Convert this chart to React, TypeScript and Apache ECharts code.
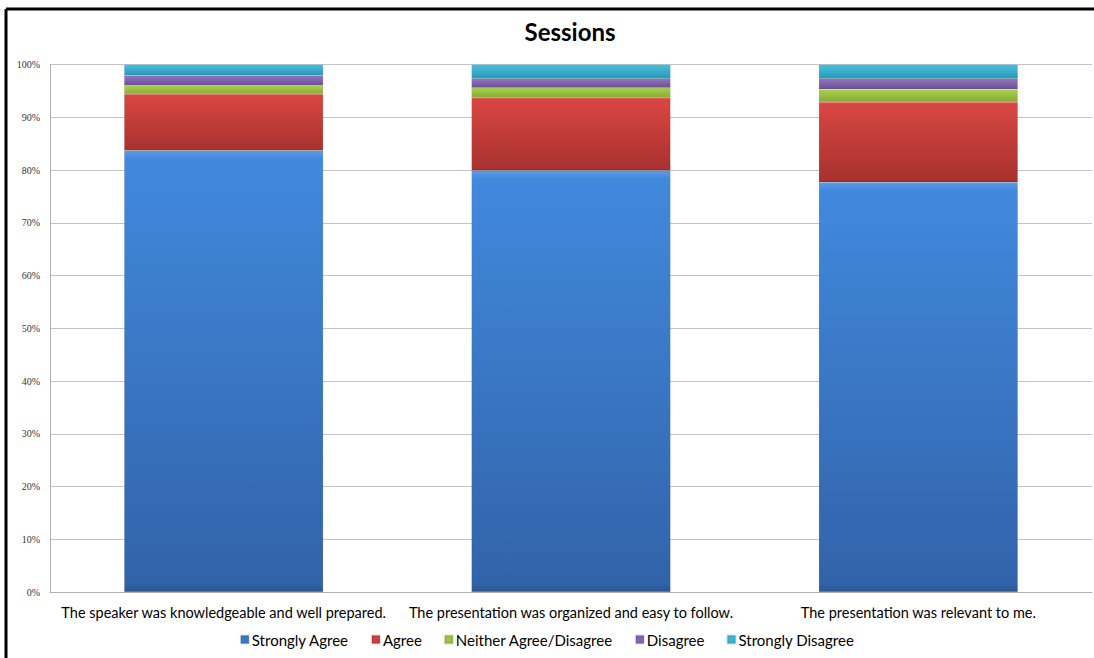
import React, { useEffect, useRef } from "react";
import * as echarts from "echarts";

const categories = [
  "The speaker was knowledgeable and well prepared.",
  "The presentation was organized and easy to follow.",
  "The presentation was relevant to me.",
];
const seriesNames = ["Strongly Agree", "Agree", "Neither Agree/Disagree", "Disagree", "Strongly Disagree"];
const stronglyAgree = [83.7, 79.9, 77.7];
const agree = [10.7, 13.8, 15.2];
const neither = [1.6, 1.9, 2.4];
const disagree = [1.9, 1.7, 2.0];
const stronglyDisagree = [2.1, 2.7, 2.7];
const yTicks = [0, 10, 20, 30, 40, 50, 60, 70, 80, 90, 100];

// [highlight, top, bottom, edge]
const palettes = [
  ["#5a9ae6", "#4189dd", "#3263a9", "#2a5590"],
  ["#ee6560", "#d94642", "#a8322f", "#8e2926"],
  ["#c8ea6a", "#a8d04c", "#86ad36", "#6e9028"],
  ["#b394dc", "#9273bf", "#6c5195", "#58417c"],
  ["#6fdcf5", "#45c1e0", "#2b97b5", "#217c96"],
];
const legendColors = ["#3a78c8", "#cc403d", "#9bc341", "#8464ae", "#3ab4d3"];

export default function App() {
  const ref = useRef<HTMLDivElement>(null);
  useEffect(() => {
    if (!ref.current) return;
    const chart = echarts.init(ref.current, undefined, { renderer: "svg" });
    const data = [stronglyAgree, agree, neither, disagree, stronglyDisagree];
    const font = "Lato, 'Open Sans', sans-serif";
    chart.setOption({
      animation: false,
      backgroundColor: "#ffffff",
      title: {
        text: "Sessions",
        left: 565,
        top: 14,
        textAlign: "center",
        textStyle: { fontSize: 24, fontWeight: "bold", fontFamily: font, color: "#000" },
      },
      legend: {
        bottom: 6,
        left: "center",
        data: seriesNames.map((n, i) => ({ name: n, itemStyle: { color: legendColors[i] } })),
        icon: "rect",
        itemWidth: 8,
        itemHeight: 8,
        itemGap: 22,
        textStyle: { fontSize: 15, fontFamily: font, color: "#000", padding: [0, 0, 0, -2] },
      },
      grid: { left: 50, right: 2, top: 64.5, bottom: 66, containLabel: false },
      xAxis: {
        type: "category",
        data: categories,
        axisLine: { lineStyle: { color: "#b0b0b0" } },
        axisTick: { show: false },
        axisLabel: { fontSize: 14.5, fontFamily: font, color: "#000", margin: 13, interval: 0 },
      },
      yAxis: {
        type: "value",
        min: 0,
        max: 100,
        interval: 10,
        axisLine: { show: true, lineStyle: { color: "#b0b0b0" } },
        axisTick: { show: false },
        splitLine: { lineStyle: { color: "#c4c4c4" } },
        axisLabel: {
          fontSize: 10,
          fontFamily: "'Liberation Serif', serif",
          color: "#333",
          margin: 10,
          formatter: (v: number) => (yTicks.includes(v) ? v + "%" : ""),
        },
      },
      series: seriesNames.map((name, i) => ({
        name,
        type: "bar",
        stack: "total",
        barWidth: 199,
        data: data[i],
        itemStyle: {
          color: new echarts.graphic.LinearGradient(0, 0, 0, 1, [
            { offset: 0, color: palettes[i][0] },
            { offset: 0.02, color: palettes[i][1] },
            { offset: 0.98, color: palettes[i][2] },
            { offset: 1, color: palettes[i][3] },
          ]),
          borderColor: "rgba(0,0,0,0.12)",
          borderWidth: 0.5,
        },
      })),
      graphic: [
        { type: "line", shape: { x1: 6, y1: 9, x2: 1094, y2: 9 }, style: { stroke: "#000", lineWidth: 3 } },
        { type: "line", shape: { x1: 6, y1: 9, x2: 6, y2: 658 }, style: { stroke: "#000", lineWidth: 3 } },
      ],
    });
    return () => chart.dispose();
  }, []);
  return (
    <div style={{ position: "absolute", left: 0, top: 0, width: 1094, height: 658 }}>
      <div ref={ref} style={{ width: 1094, height: 658 }} />
    </div>
  );
}
